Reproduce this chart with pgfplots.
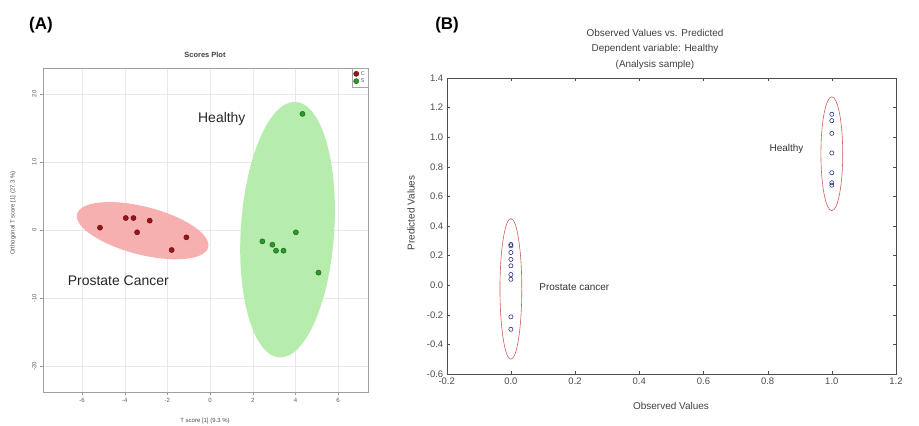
\documentclass[border=0pt]{standalone}
\usepackage{pgfplots}
\pgfplotsset{compat=1.18}
\usepackage{fontspec}
\setmainfont{Liberation Sans}

\definecolor{redpt}{RGB}{150,22,22}
\definecolor{redpte}{RGB}{105,10,10}
\definecolor{greenpt}{RGB}{45,150,45}
\definecolor{greenpte}{RGB}{20,100,20}
\definecolor{redell}{RGB}{246,176,176}
\definecolor{greenell}{RGB}{182,236,172}
\definecolor{bluept}{RGB}{45,50,130}
\definecolor{ellline}{RGB}{205,95,85}

\begin{document}
\begin{tikzpicture}
\useasboundingbox (0,0) rectangle (919bp,426bp);

% (A) scores plot
\begin{axis}[
    at={(43bp,34bp)}, anchor=south west,
    scale only axis, width=325bp, height=324bp,
    xmin=-7.83, xmax=7.4, ymin=-23.8, ymax=23.8,
    xtick={-6,-4,-2,0,2,4,6},
    ytick={-20,-10,0,10,20},
    grid=major, grid style={gray!18},
    axis line style={gray!75},
    tick style={gray!80},
    tick align=outside, xtick pos=bottom, ytick pos=left,
    major tick length=3bp,
    /pgf/number format/assume math mode=true,
    tick label style={font=\fontsize{6}{7}\selectfont, text=gray!70!black},
    yticklabel style={rotate=90},
    legend style={at={(1,1)}, anchor=north east, font=\fontsize{5.5}{6}\selectfont,
        draw=gray!70, inner sep=1pt, row sep=-2pt, text=gray!70!black},
    legend cell align=left,
]
\fill[redell, rotate around={-14.3:(axis cs:-3.16,-0.1)}]
    (axis cs:-3.16,-0.1) ellipse [x radius=67.6bp, y radius=24bp];
\fill[greenell, rotate around={-3.7:(axis cs:3.63,0.05)}]
    (axis cs:3.63,0.05) ellipse [x radius=46.7bp, y radius=128bp];
\addplot[only marks, mark=*, mark size=2.6bp, draw=redpte, fill=redpt]
    coordinates {(-5.16,0.34) (-3.95,1.76) (-3.59,1.76) (-2.83,1.37)
                 (-3.42,-0.34) (-1.11,-1.08) (-1.80,-2.94)};
\addlegendentry{C}
\addplot[only marks, mark=*, mark size=2.6bp, draw=greenpte, fill=greenpt]
    coordinates {(4.33,17.06) (4.02,-0.34) (2.45,-1.67) (2.92,-2.16)
                 (3.09,-3.04) (3.44,-3.04) (5.08,-6.27)};
\addlegendentry{S}
\node[font=\fontsize{14}{16}\selectfont, text=black!85] at (axis cs:0.55,16.3) {Healthy};
\node[font=\fontsize{14}{16}\selectfont, text=black!85] at (axis cs:-4.3,-7.5) {Prostate Cancer};
\end{axis}

% (B) observed vs predicted
\begin{axis}[
    at={(446.7bp,52bp)}, anchor=south west,
    scale only axis, width=449.3bp, height=296bp,
    xmin=-0.2, xmax=1.2, ymin=-0.6, ymax=1.4,
    xtick={-0.2,0,0.2,0.4,0.6,0.8,1,1.2},
    ytick={-0.6,-0.4,-0.2,0,0.2,0.4,0.6,0.8,1,1.2,1.4},
    xticklabel style={/pgf/number format/.cd, fixed, fixed zerofill, precision=1},
    yticklabel style={/pgf/number format/.cd, fixed, fixed zerofill, precision=1},
    /pgf/number format/assume math mode=true,
    tick label style={font=\fontsize{9.5}{11}\selectfont, text=black!70},
    axis line style={black!70},
    tick style={black!70},
    tick align=inside, major tick length=3bp,
]
\draw[ellline, line width=0.6pt] (axis cs:0,-0.025) ellipse [x radius=0.034, y radius=0.475];
\draw[ellline, line width=0.6pt] (axis cs:1,0.888) ellipse [x radius=0.034, y radius=0.385];
\addplot[only marks, mark=o, mark size=2.1bp, bluept, line width=0.6pt]
    coordinates {(0,0.275) (0,0.266) (0,0.221) (0,0.174) (0,0.131)
                 (0,0.072) (0,0.040) (0,-0.214) (0,-0.298)};
\addplot[only marks, mark=o, mark size=2.1bp, bluept, line width=0.6pt]
    coordinates {(1,1.155) (1,1.112) (1,1.026) (1,0.893) (1,0.760)
                 (1,0.692) (1,0.676)};
\node[font=\fontsize{10}{12}\selectfont, text=black!80, anchor=west] at (axis cs:0.078,-0.01) {Prostate cancer};
\node[font=\fontsize{10}{12}\selectfont, text=black!80] at (axis cs:0.859,0.918) {Healthy};
\end{axis}

% panel letters, titles and axis labels
\node[font=\fontsize{17}{20}\selectfont\bfseries] at (41bp,401bp) {(A)};
\node[font=\fontsize{17}{20}\selectfont\bfseries] at (447bp,401bp) {(B)};
\node[font=\fontsize{7.5}{8}\selectfont\bfseries, text=black!75] at (205bp,371bp) {Scores Plot};
\node[font=\fontsize{6}{7}\selectfont, text=black!70] at (205bp,5bp) {T score [1] (9.3 \%)};
\node[font=\fontsize{6}{7}\selectfont, text=black!70, rotate=90] at (13bp,213bp) {Orthogonal T score [1] (27.3 \%)};
\node[font=\fontsize{10}{12}\selectfont, text=black!75, align=center] at (655bp,377bp)
    {Observed Values vs. Predicted\\[3.5pt] Dependent variable: Healthy\\[3.5pt] (Analysis sample)};
\node[font=\fontsize{10}{12}\selectfont, text=black!75] at (671bp,20bp) {Observed Values};
\node[font=\fontsize{10}{12}\selectfont, text=black!75, rotate=90] at (411bp,213bp) {Predicted Values};
\end{tikzpicture}
\end{document}
